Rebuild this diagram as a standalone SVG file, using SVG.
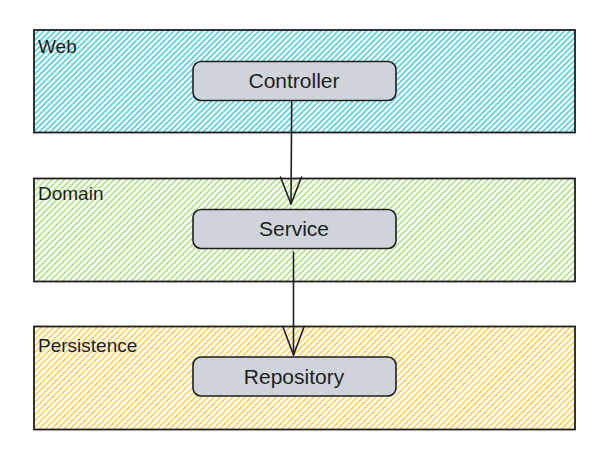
<svg xmlns="http://www.w3.org/2000/svg" width="599" height="455" viewBox="0 0 599 455">
<defs>
<pattern id="hCyan" patternUnits="userSpaceOnUse" width="4" height="4" patternTransform="rotate(45)">
<line x1="1" y1="0" x2="1" y2="4" stroke="#2fc1d6" stroke-width="1.4"/>
</pattern>
<pattern id="hGreen" patternUnits="userSpaceOnUse" width="4.4" height="4.4" patternTransform="rotate(45)">
<line x1="1" y1="0" x2="1" y2="4.4" stroke="#a6e07a" stroke-width="1.5"/>
</pattern>
<pattern id="hYellow" patternUnits="userSpaceOnUse" width="4.4" height="4.4" patternTransform="rotate(45)">
<line x1="1" y1="0" x2="1" y2="4.4" stroke="#ffcc4d" stroke-width="1.5"/>
</pattern>
</defs>
<style>
.layer{stroke:#1e1e1e;stroke-width:1.8}
.node rect{fill:#ced4da;stroke:#1e1e1e;stroke-width:1.6}
.lbl{font-family:"Liberation Sans",Arial,sans-serif;font-size:19px;fill:#1e1e1e}
.nlbl{font-family:"Liberation Sans",Arial,sans-serif;font-size:21px;fill:#1e1e1e;text-anchor:middle}
.conn{stroke:#1e1e1e;stroke-width:1.6;fill:none;stroke-linecap:round;stroke-linejoin:round}
</style>
<rect width="599" height="455" fill="#ffffff"/>
<g id="web">
<rect class="layer" x="34" y="30" width="541" height="102.5" fill="url(#hCyan)"/>
<text class="lbl" x="38" y="53">Web</text>
</g>
<g id="domain">
<rect class="layer" x="34" y="178.5" width="541" height="103" fill="url(#hGreen)"/>
<text class="lbl" x="38" y="200">Domain</text>
</g>
<g id="persistence">
<rect class="layer" x="34" y="326.5" width="541" height="103" fill="url(#hYellow)"/>
<text class="lbl" x="38" y="352">Persistence</text>
</g>
<g id="controller" class="node">
<rect x="193" y="61.5" width="203" height="39" rx="8"/>
<text class="nlbl" x="294" y="88">Controller</text>
</g>
<g id="service" class="node">
<rect x="193" y="209.5" width="203" height="39" rx="8"/>
<text class="nlbl" x="294" y="236">Service</text>
</g>
<g id="repository" class="node">
<rect x="193" y="357" width="203" height="39" rx="8"/>
<text class="nlbl" x="294" y="384">Repository</text>
</g>
<g id="connectors">
<path class="conn" d="M291.7 101.5 L291 204"/>
<path class="conn" d="M280.5 177 L291 204 L301.5 177"/>
<path class="conn" d="M293.5 252 L293.5 355"/>
<path class="conn" d="M283 327 L293.5 355 L304 327"/>
</g>
</svg>
